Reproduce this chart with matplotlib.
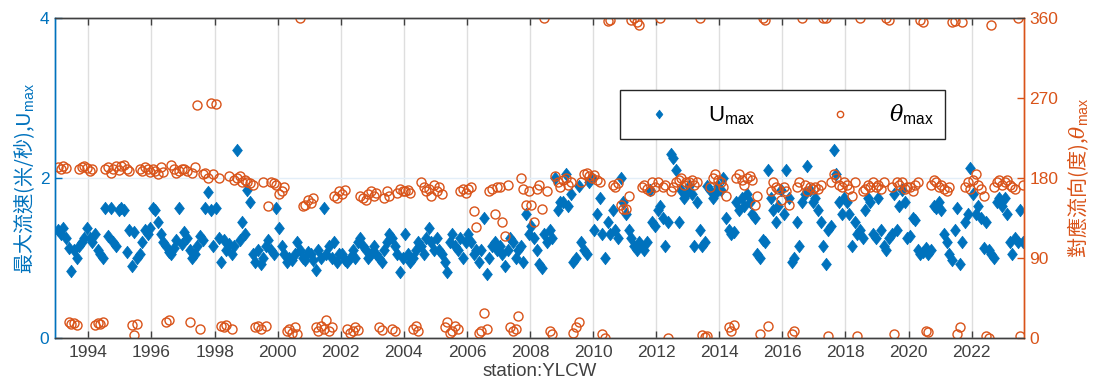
import numpy as np
import matplotlib
matplotlib.use("Agg")
import matplotlib.pyplot as plt
from matplotlib.path import Path

plt.rcParams['font.family'] = ['Liberation Sans', 'Noto Sans CJK TC', 'DejaVu Sans']
plt.rcParams['mathtext.fontset'] = 'custom'
plt.rcParams['mathtext.rm'] = 'Liberation Sans'
plt.rcParams['mathtext.it'] = 'DejaVu Serif:italic'

start_year = 1993

u_max = [
    # 1993
    1.35, 1.30, 1.38, 1.25, 1.12, 0.84, 1.10, 1.00, 1.15, 1.20, 1.25, 1.38,
    # 1994
    1.25, 1.20, 1.30, 1.10, 1.05, 1.00, 1.62, 1.28, 1.62, 1.20, 1.15, 1.60,
    # 1995
    1.62, 1.60, 1.08, 1.35, 0.90, 1.33, 1.00, 1.05, 1.20, 1.35, 1.30, 1.38,
    # 1996
    1.62, 1.60, 1.45, 1.30, 1.20, 1.15, 1.08, 1.05, 1.12, 1.22, 1.62, 1.18,
    # 1997
    1.32, 1.25, 1.10, 1.00, 1.05, 1.15, 1.28, 1.22, 1.62, 1.82, 1.60, 1.15,
    # 1998
    1.62, 1.25, 0.95, 1.22, 1.10, 1.18, 1.05, 1.15, 2.35, 1.22, 1.45, 1.30,
    # 1999
    1.85, 1.70, 1.05, 0.95, 1.10, 0.92, 1.00, 1.15, 1.22, 1.10, 1.05, 1.62,
    # 2000
    1.38, 1.15, 1.05, 0.95, 1.00, 0.97, 1.05, 1.20, 1.10, 1.00, 0.98, 1.08,
    # 2001
    1.05, 0.98, 0.85, 1.10, 1.00, 1.63, 1.05, 1.15, 1.00, 1.20, 0.95, 1.05,
    # 2002
    1.05, 0.98, 0.95, 1.00, 1.10, 1.00, 1.20, 1.25, 1.15, 1.10, 1.00, 1.05,
    # 2003
    1.15, 1.05, 1.00, 0.95, 1.10, 1.20, 1.30, 1.25, 1.15, 1.05, 0.83, 1.00,
    # 2004
    1.30, 1.05, 0.95, 1.00, 1.10, 1.20, 1.15, 1.05, 1.25, 1.37, 1.20, 1.10,
    # 2005
    1.25, 1.10, 1.05, 0.95, 0.83, 1.20, 1.30, 1.15, 1.10, 1.25, 1.00, 1.20,
    # 2006
    1.30, 1.20, 1.05, 1.10, 0.95, 1.10, 1.50, 0.80, 1.00, 1.15, 1.20, 1.10,
    # 2007
    1.15, 1.05, 0.90, 1.10, 1.25, 1.20, 1.00, 1.10, 1.15, 0.95, 1.55, 1.30,
    # 2008
    1.40, 1.25, 1.10, 0.92, 0.88, 1.30, 1.20, 1.35, 1.25, 2.00, 1.60, 1.70,
    # 2009
    1.70, 2.05, 1.65, 1.80, 0.95, 1.00, 1.90, 1.20, 1.10, 1.05, 1.95, 2.00,
    # 2010
    1.35, 1.55, 1.75, 1.30, 1.00, 1.45, 1.30, 1.60, 1.35, 1.25, 2.00, 1.70,
    # 2011
    1.55, 1.35, 1.25, 1.15, 1.10, 1.20, 1.15, 1.10, 1.20, 1.85, 1.45, 1.40,
    # 2012
    1.60, 1.65, 1.50, 1.15, 1.45, 2.30, 2.25, 2.10, 1.45, 1.85, 1.75, 1.80,
    # 2013
    1.90, 1.80, 1.15, 1.70, 1.35, 1.15, 1.20, 1.90, 1.85, 1.75, 1.80, 1.90,
    # 2014
    1.85, 2.00, 1.50, 1.35, 1.30, 1.32, 1.70, 1.60, 1.75, 1.65, 1.80, 1.70,
    # 2015
    1.55, 1.50, 1.05, 1.00, 1.22, 1.20, 2.10, 1.75, 1.60, 1.45, 1.65, 1.85,
    # 2016
    1.55, 2.10, 1.75, 0.95, 1.00, 1.45, 1.15, 1.70, 1.80, 2.15, 1.85, 1.70,
    # 2017
    1.75, 1.60, 1.45, 1.15, 0.92, 1.35, 1.40, 2.35, 2.05, 1.70, 1.55, 1.75,
    # 2018
    1.70, 1.55, 1.15, 1.45, 1.30, 1.35, 1.25, 1.60, 1.75, 1.70, 1.30, 1.25,
    # 2019
    1.75, 1.35, 1.15, 1.10, 1.25, 1.30, 1.80, 1.35, 1.65, 1.85, 1.70, 1.25,
    # 2020
    1.28, 1.50, 1.48, 1.10, 1.05, 1.08, 1.12, 1.05, 1.10, 1.65, 1.62, 1.70,
    # 2021
    1.60, 1.30, 1.20, 1.05, 0.98, 1.35, 1.62, 0.92, 1.20, 1.45, 1.55, 2.12,
    # 2022
    1.80, 1.55, 1.65, 1.50, 1.12, 1.45, 1.10, 1.05, 1.00, 1.70, 1.75, 1.65,
    # 2023
    1.75, 1.55, 1.20, 1.05, 1.25, 1.20, 1.60, 1.20,
]

theta_max = [
    # 1993
    192, 190, 193, 191, 18, 16, 17, 15, 190, 192, 194, 191,
    # 1994
    188, 190, 15, 17, 16, 18, 190, 192, 186, 190, 193, 189,
    # 1995
    193, 195, 190, 188, 15, 3, 16, 190, 188, 192, 190, 187,
    # 1996
    190, 188, 185, 192, 187, 18, 20, 195, 190, 186, 188, 190,
    # 1997
    190, 188, 18, 186, 192, 262, 10, 184, 186, 180, 264, 185,
    # 1998
    263, 180, 14, 12, 15, 182, 10, 178, 180, 182, 176, 178,
    # 1999
    176, 174, 172, 12, 14, 10, 175, 13, 148, 176, 174, 172,
    # 2000
    162, 165, 170, 8, 10, 6, 12, 5, 360, 148, 150, 155,
    # 2001
    152, 158, 12, 8, 14, 10, 20, 8, 12, 160, 158, 165,
    # 2002
    162, 166, 10, 6, 8, 12, 9, 160, 158, 155, 162, 165,
    # 2003
    160, 163, 12, 9, 158, 165, 160, 10, 8, 163, 168, 165,
    # 2004
    165, 167, 163, 10, 14, 8, 176, 170, 165, 168, 160, 172,
    # 2005
    165, 170, 162, 12, 18, 6, 8, 14, 10, 165, 168, 163,
    # 2006
    168, 170, 143, 125, 6, 8, 28, 10, 165, 168, 140, 170,
    # 2007
    170, 130, 115, 172, 12, 8, 10, 25, 180, 168, 150, 165,
    # 2008
    150, 130, 168, 172, 145, 360, 165, 8, 5, 182, 175, 170,
    # 2009
    178, 180, 172, 175, 6, 12, 18, 175, 185, 186, 182, 180,
    # 2010
    183, 178, 175, 5, 0, 357, 358, 172, 170, 174, 150, 145,
    # 2011
    145, 160, 358, 360, 355, 352, 170, 172, 168, 165, 175, 170,
    # 2012
    175, 360, 170, 172, 0, 165, 170, 175, 178, 180, 172, 175,
    # 2013
    176, 178, 172, 175, 360, 3, 1, 2, 170, 180, 185, 178,
    # 2014
    175, 170, 160, 12, 8, 15, 180, 185, 178, 172, 180, 182,
    # 2015
    178, 150, 160, 5, 360, 358, 14, 165, 175, 170, 168, 155,
    # 2016
    170, 165, 150, 4, 8, 170, 175, 360, 172, 165, 170, 168,
    # 2017
    170, 168, 172, 360, 360, 2, 175, 185, 180, 172, 170, 175,
    # 2018
    172, 168, 160, 175, 2, 360, 165, 168, 172, 170, 175, 170,
    # 2019
    172, 168, 175, 360, 358, 170, 5, 176, 172, 175, 168, 170,
    # 2020
    170, 165, 172, 175, 358, 356, 8, 7, 172, 178, 176, 170,
    # 2021
    172, 168, 165, 170, 356, 357, 5, 12, 355, 170, 175, 168,
    # 2022
    178, 185, 172, 168, 160, 2, 0, 352, 170, 175, 178, 172,
    # 2023
    175, 178, 172, 170, 168, 360, 2, 172,
]

x_ticks = list(range(1994, 2023, 2))
left_ticks = [0, 2, 4]
right_ticks = [0, 90, 180, 270, 360]

BLUE = '#0072BD'
ORANGE = '#D95319'

n = len(u_max)
t = start_year + (np.arange(n) + 0.5) / 12.0

# MATLAB-like diamond (taller than wide)
diamond = Path([(0, 1), (0.78, 0), (0, -1), (-0.78, 0), (0, 1)],
               [Path.MOVETO, Path.LINETO, Path.LINETO, Path.LINETO, Path.CLOSEPOLY])

fig = plt.figure(figsize=(10.99, 3.92), dpi=100)
ax = fig.add_axes([0.05, 0.1378, 0.8818, 0.8163])
ax2 = ax.twinx()

lu, = ax.plot(t, u_max, linestyle='none', marker=diamond, markersize=9,
              color=BLUE, markeredgecolor=BLUE, markeredgewidth=0.5,
              label='U$_{\\mathrm{max}}$')
lt, = ax2.plot(t, theta_max, linestyle='none', marker='o', markersize=6.5,
               markerfacecolor='none', markeredgecolor=ORANGE, markeredgewidth=1.0,
               label='$\\theta_{\\mathrm{max}}$')

ax.set_xlim(1992.94, 2023.66)
ax.set_ylim(0, 4)
ax2.set_ylim(0, 360)
ax.set_xticks(x_ticks)
ax.set_xticklabels([str(v) for v in x_ticks])
ax.set_yticks(left_ticks)
ax2.set_yticks(right_ticks)

ax.grid(axis='x', color='#dedede', linewidth=1.0)
ax.grid(axis='y', color='#e3eef8', linewidth=1.0)
ax.set_axisbelow(True)

ax.tick_params(axis='x', direction='in', top=True, bottom=True, length=5,
               colors='#404040', labelsize=12.5, width=1.0, pad=5)
ax.tick_params(axis='y', direction='in', left=True, right=False, length=5,
               colors=BLUE, labelsize=12.5, width=1.0, pad=4)
ax2.tick_params(axis='y', direction='in', right=True, length=5,
                colors=ORANGE, labelsize=12.5, width=1.0, pad=4)

for a in (ax, ax2):
    a.spines['top'].set_color('#404040')
    a.spines['bottom'].set_color('#404040')
    a.spines['left'].set_color(BLUE)
    a.spines['right'].set_color(ORANGE)
    for s in a.spines.values():
        s.set_linewidth(1.0)

ax.set_xlabel('station:YLCW', fontsize=13.5, color='#404040', labelpad=2)
ax.set_ylabel('最大流速(米/秒),U$_{\\mathrm{max}}$', fontsize=14.5, color=BLUE,
              family=['Noto Sans CJK TC', 'DejaVu Sans'], fontweight='light',
              labelpad=2)
ax2.set_ylabel('對應流向(度),$\\theta_{\\mathrm{max}}$', fontsize=14.5, color=ORANGE,
               family=['Noto Sans CJK TC', 'DejaVu Sans'], fontweight='light',
               labelpad=5)

leg = ax2.legend([lu, lt], ['U$_{\\mathrm{max}}$', '$\\theta_{\\mathrm{max}}$'],
                 loc='center', bbox_to_anchor=(0.751, 0.698), ncol=2,
                 fontsize=16, frameon=True, fancybox=False,
                 edgecolor='#262626', framealpha=1.0, markerscale=0.7,
                 handlelength=2.4, handletextpad=1.0, columnspacing=2.6,
                 borderpad=0.55)
leg.get_frame().set_linewidth(1.0)

fig.savefig('out.png', dpi=100)
